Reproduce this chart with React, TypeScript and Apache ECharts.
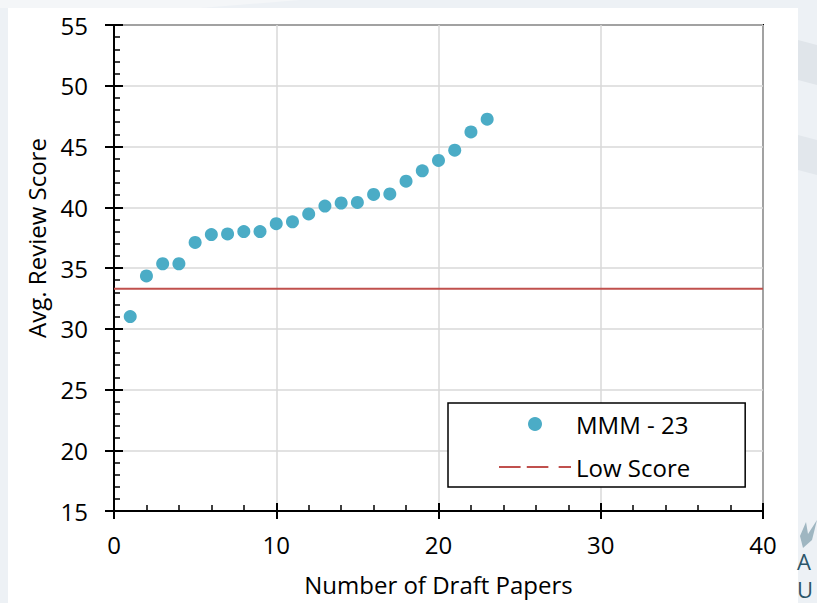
import React, { useEffect, useRef } from "react";
import * as echarts from "echarts";

const draftPapers = [1, 2, 3, 4, 5, 6, 7, 8, 9, 10, 11, 12, 13, 14, 15, 16, 17, 18, 19, 20, 21, 22, 23];
const avgScores = [31.0, 34.35, 35.35, 35.35, 37.1, 37.75, 37.8, 38.0, 38.0, 38.65, 38.8, 39.45, 40.1, 40.35, 40.4, 41.05, 41.1, 42.15, 43.0, 43.85, 44.7, 46.2, 47.25];
const lowScore = 33.3;
const lowScoreRange = [0, 40];
const xTicks = { min: 0, max: 40, interval: 10 };
const yTicks = { min: 15, max: 55, interval: 5 };
const seriesNames = ["MMM - 23", "Low Score"];

const FONT = "Open Sans";
const FS = 24;

export default function App() {
  const ref = useRef<HTMLDivElement>(null);
  useEffect(() => {
    if (!ref.current) return;
    const chart = echarts.init(ref.current, null, { renderer: "svg" });
    const axisBlack = "#000";
    const baseX = {
      type: "value",
      min: xTicks.min,
      max: xTicks.max,
      interval: xTicks.interval,
      position: "bottom",
    };
    const baseY = {
      type: "value",
      min: yTicks.min,
      max: yTicks.max,
      interval: yTicks.interval,
      position: "left",
    };
    chart.setOption({
      animation: false,
      backgroundColor: "#edf1f5",
      textStyle: { fontFamily: FONT },
      graphic: [
        { type: "polygon", silent: true, z: -10, shape: { points: [[798, 40], [817, 45], [817, 85], [798, 80]] }, style: { fill: "#e0e5ea" } },
        { type: "polygon", silent: true, z: -10, shape: { points: [[798, 135], [817, 140], [817, 175], [798, 170]] }, style: { fill: "#e2e7ec" } },
        { type: "polygon", silent: true, z: -10, shape: { points: [[0, 0], [300, 0], [200, 8], [0, 8]] }, style: { fill: "#f4f6f8" } },
        { type: "rect", silent: true, z: -9, shape: { x: 8, y: 8, width: 790, height: 595 }, style: { fill: "#ffffff" } },
        { type: "polygon", silent: true, z: -8, shape: { points: [[800, 536], [806, 522], [808, 534], [817, 520], [812, 540], [803, 548]] }, style: { fill: "#9fb6c1" } },
        { type: "text", silent: true, z: -8, x: 797, y: 547, style: { text: "A\nU", fontFamily: FONT, fontSize: 22, lineHeight: 28, fill: "#2b5568" } },
      ],
      grid: {
        left: 114,
        right: 54,
        top: 25,
        bottom: 92,
        show: true,
        backgroundColor: "#ffffff",
        borderColor: axisBlack,
        borderWidth: 2,
      },
      legend: {
        left: 448,
        top: 403,
        orient: "vertical",
        borderColor: axisBlack,
        borderWidth: 1.5,
        backgroundColor: "#ffffff",
        padding: [9, 55, 8, 51],
        itemWidth: 72,
        itemHeight: 14,
        itemGap: 19,
        textStyle: { fontFamily: FONT, fontSize: FS, color: "#000" },
        data: [
          { name: seriesNames[0], icon: "circle" },
          {
            name: seriesNames[1],
            icon: "path://M0 0h21v2H0z M27 0h21v2H27z M58 0h12v2H58z",
          },
        ],
      },
      xAxis: [
        {
          ...baseX,
          axisLine: { show: true, lineStyle: { color: axisBlack, width: 2 } },
          axisTick: { show: true, inside: true, length: 8, lineStyle: { color: axisBlack, width: 2 } },
          minorTick: { show: true, splitNumber: 5, length: 6, lineStyle: { color: axisBlack, width: 1.5 } },
          splitLine: { show: true, lineStyle: { color: "#d9d9d9", width: 1.5 } },
          axisLabel: { fontFamily: FONT, fontSize: FS, color: "#000", margin: 21 },
          name: "Number of Draft Papers",
          nameLocation: "middle",
          nameGap: 61,
          nameTextStyle: { fontFamily: FONT, fontSize: FS, color: "#000" },
        },
        {
          ...baseX,
          axisLine: { show: false },
          axisTick: { show: true, inside: false, length: 8, lineStyle: { color: axisBlack, width: 2 } },
          axisLabel: { show: false },
          splitLine: { show: false },
        },
      ],
      yAxis: [
        {
          ...baseY,
          axisLine: { show: true, lineStyle: { color: axisBlack, width: 2 } },
          axisTick: { show: true, inside: true, length: 9, lineStyle: { color: axisBlack, width: 2 } },
          minorTick: { show: true, splitNumber: 5, length: 6, lineStyle: { color: axisBlack, width: 1.5 } },
          splitLine: { show: true, lineStyle: { color: "#d9d9d9", width: 1.5 } },
          axisLabel: { fontFamily: FONT, fontSize: FS, color: "#000", margin: 26 },
          name: "Avg. Review Score",
          nameLocation: "middle",
          nameGap: 66,
          nameTextStyle: { fontFamily: FONT, fontSize: FS, color: "#000", padding: [0, 0, 0, 60] },
        },
        {
          ...baseY,
          axisLine: { show: false },
          axisTick: { show: true, inside: false, length: 9, lineStyle: { color: axisBlack, width: 2 } },
          axisLabel: { show: false },
          splitLine: { show: false },
        },
      ],
      series: [
        {
          name: seriesNames[1],
          type: "line",
          xAxisIndex: 0,
          yAxisIndex: 0,
          symbol: "none",
          data: lowScoreRange.map((x) => [x, lowScore]),
          lineStyle: { color: "#c0504d", width: 2 },
          itemStyle: { color: "#c0504d" },
          z: 2,
        },
        {
          name: seriesNames[0],
          type: "scatter",
          xAxisIndex: 0,
          yAxisIndex: 0,
          symbol: "circle",
          symbolSize: 13,
          data: draftPapers.map((x, i) => [x, avgScores[i]]),
          itemStyle: { color: "#4bacc6", opacity: 1 },
          z: 3,
        },
      ],
    });
    return () => chart.dispose();
  }, []);
  return (
    <div
      ref={ref}
      style={{ position: "absolute", left: 0, top: 0, width: 817, height: 603 }}
    />
  );
}
